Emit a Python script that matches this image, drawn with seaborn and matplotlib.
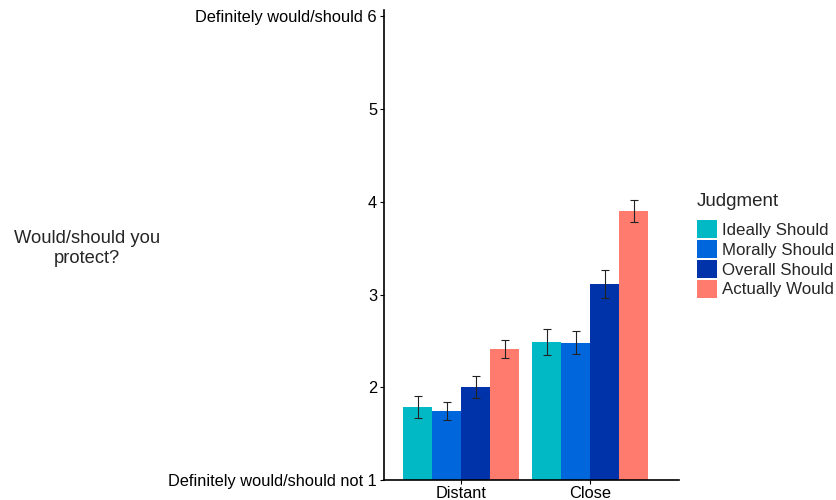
import numpy as np
import pandas as pd
import seaborn as sns
import matplotlib.pyplot as plt
from matplotlib.patches import Patch

# data
distance = ["Distant", "Close"]
judgments = ["Ideally Should", "Morally Should", "Overall Should", "Actually Would"]
distant_means = [1.79, 1.745, 2.00, 2.415]
close_means = [2.49, 2.48, 3.11, 3.90]
distant_se = [0.12, 0.10, 0.12, 0.10]
close_se = [0.14, 0.125, 0.15, 0.12]
colors = ["#00B9C5", "#0066DC", "#0033AA", "#FF7B6E"]
ytick_labels = ["Definitely would/should not 1", "2", "3", "4", "5", "Definitely would/should 6"]

df = pd.DataFrame({
    "distance": np.repeat(distance, len(judgments)),
    "judgment": judgments * 2,
    "mean": distant_means + close_means,
    "se": distant_se + close_se,
})

sns.set_style("white")
plt.rcParams["font.family"] = ["Liberation Sans", "DejaVu Sans"]

fig = plt.figure(figsize=(8.37, 5), dpi=100)
ax = fig.add_axes([0.4588, 0.04, 0.8112 - 0.4588, 0.94])

sns.barplot(data=df, x="distance", y="mean", hue="judgment", hue_order=judgments,
            palette=colors, width=0.9, errorbar=None, saturation=1, ax=ax,
            legend=False, linewidth=0)

# error bars at bar centres (patches come hue by hue)
order = df.assign(k=df["judgment"].map({j: i for i, j in enumerate(judgments)}))
order = order.sort_values("k", kind="stable")
for patch, (_, row) in zip(ax.patches, order.iterrows()):
    cx = patch.get_x() + patch.get_width() / 2
    ax.errorbar(cx, row["mean"], yerr=row["se"], fmt="none", ecolor="#222222",
                elinewidth=0.8, capsize=3, capthick=0.8)

ax.set_ylim(1, 6.07)
ax.set_xlim(-0.6, 1.69)
ax.set_yticks([1, 2, 3, 4, 5, 6])
ax.set_yticklabels(ytick_labels, fontsize=11.8, color="black")
ax.tick_params(axis="x", labelsize=11.8, colors="black", length=3, width=0.8, bottom=True, pad=1)
ax.tick_params(axis="y", length=3, width=0.8, left=True, colors="black", pad=2)
ax.set_xlabel("")
ax.set_ylabel("")
for s in ["top", "right"]:
    ax.spines[s].set_visible(False)
for s in ["left", "bottom"]:
    ax.spines[s].set_color("black")
    ax.spines[s].set_linewidth(1.2)

fig.text(0.104, 0.503, "Would/should you\nprotect?", ha="center", va="center",
         fontsize=13.2, linespacing=1.25)

handles = [Patch(facecolor=c, edgecolor="none") for c in colors]
leg = fig.legend(handles, judgments, title="Judgment", loc="upper left",
                 bbox_to_anchor=(0.8235, 0.629), frameon=False, fontsize=12.2,
                 title_fontsize=13.5, handlelength=1.17, handleheight=1.28,
                 handletextpad=0.3, labelspacing=0.1, borderaxespad=0,
                 borderpad=0.45)
leg._legend_box.align = "left"
leg._legend_box.sep = 7

fig.savefig("out.png", dpi=100)
